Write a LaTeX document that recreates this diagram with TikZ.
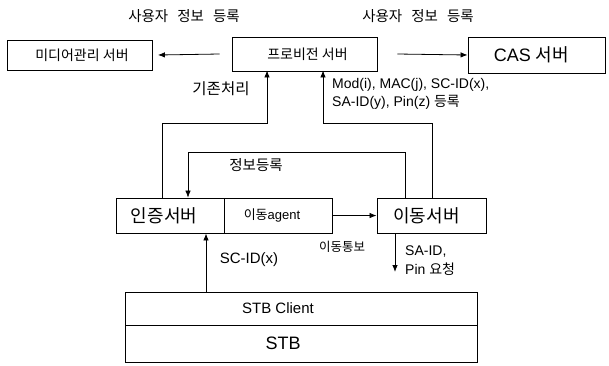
\documentclass[tikz,border=0pt]{standalone}
\usepackage{fontspec}
\setmainfont{Liberation Sans}
\newfontfamily\kr{Noto Sans CJK KR}
\usetikzlibrary{arrows.meta}
\newcommand{\fs}[1]{\fontsize{#1}{#1}\selectfont}
\tikzset{
  box/.style={draw, line width=0.9pt, inner sep=0pt},
  lbl/.style={inner sep=0pt, font=\fs{14}},
  arr/.style={line width=0.8pt, -{Latex[length=7pt,width=5.5pt]}},
}
\begin{document}
\begin{tikzpicture}[x=1pt,y=-1pt]
\useasboundingbox (0,0) rectangle (609,365);
% boxes
\node[box, minimum width=145pt, minimum height=30pt] (media) at (80,55) {};
\node[box, minimum width=145pt, minimum height=34pt] (prov) at (304.5,54) {};
\node[box, minimum width=137pt, minimum height=36pt] (cas) at (536.5,55) {};
\node[box, minimum width=108pt, minimum height=35pt] (auth) at (170,215.5) {};
\node[box, minimum width=108pt, minimum height=35pt] (agent) at (278,215.5) {};
\node[box, minimum width=109pt, minimum height=35pt] (move) at (431.5,215.5) {};
\node[box, minimum width=352pt, minimum height=33pt] (client) at (301,308.5) {};
\node[box, minimum width=352pt, minimum height=37pt] (stb) at (301,343.5) {};
% box texts
\node[lbl] (tmedia) at ([xshift=2pt]media.center) {\kr 미디어관리 서버};
\node[lbl] (tprov) at ([xshift=3pt]prov.center) {\kr 프로비전 서버};
\node[lbl, font=\fs{18}] (tcas) at ([xshift=-5pt]cas.center) {CAS {\kr 서버}};
\node[lbl, font=\fs{18}] (tauth) at ([xshift=-6pt]auth.center) {\kr 인증서버};
\node[lbl, font=\fs{13}] (tagent) at ([xshift=-6pt]agent.center) {{\kr 이동}agent};
\node[lbl, font=\fs{18}] (tmove) at ([xshift=-5pt]move.center) {\kr 이동서버};
\node[lbl, font=\fs{15}] (tclient) at ([xshift=-23pt]client.center) {STB Client};
\node[lbl, font=\fs{18}] (tstb) at ([xshift=-18pt]stb.center) {STB};
% labels
\node[lbl, font=\fs{14.5}] (l1) at (184,16) {\kr 사용자\hspace{9pt}정보\hspace{9pt}등록};
\node[lbl, font=\fs{14.5}] (l2) at (418,16) {\kr 사용자\hspace{9pt}정보\hspace{9pt}등록};
\node[lbl, font=\fs{15.5}] (l3) at (221,89) {\kr 기존처리};
\node[lbl, anchor=west, align=left] (l4) at (332,94) {Mod(i), MAC(j), SC-ID(x),\\[3pt]SA-ID(y), Pin(z) {\kr 등록}};
\node[lbl, font=\fs{14.5}] (l5) at (256,165) {\kr 정보등록};
\node[lbl, font=\fs{12.5}] (l6) at (342,247) {\kr 이동통보};
\node[lbl, anchor=west, align=left] (l7) at (405,261) {SA-ID,\\[5pt]Pin {\kr 요청}};
\node[lbl, font=\fs{15}] (l8) at (249,260) {SC-ID(x)};
% coordinates
\coordinate (a1) at ([xshift=-8pt]auth.north);
\coordinate (p1) at ([xshift=-37.5pt]prov.south);
\coordinate (m1) at ([xshift=0.5pt]move.north);
\coordinate (p2) at ([xshift=18.5pt]prov.south);
\coordinate (m2) at ([xshift=-26.5pt]move.north);
\coordinate (a2) at ([xshift=18pt]auth.north);
\coordinate (m3) at ([xshift=-36.5pt]move.south);
\coordinate (m3e) at (395,272);
\coordinate (c3) at ([xshift=-95pt]client.north);
% connectors
\draw[arr] ([xshift=-12pt]prov.west) -- ([xshift=5pt]media.east);
\draw[arr] ([xshift=20pt]prov.east) -- (cas.west);
\draw[arr] (a1) -- (a1 |- 0,123) -- (p1 |- 0,123) -- ([yshift=1pt]p1);
\draw[arr] (m1) -- (m1 |- 0,123) -- (p2 |- 0,123) -- ([yshift=1pt]p2);
\draw[arr, line width=0.6pt] (m2) -- (m2 |- 0,152) -- (a2 |- 0,152) -- (a2);
\draw[arr] (agent.east) -- (move.west);
\draw[arr] (m3) -- (m3e);
\draw[arr] (c3) -- (c3 |- auth.south);
\end{tikzpicture}
\end{document}
